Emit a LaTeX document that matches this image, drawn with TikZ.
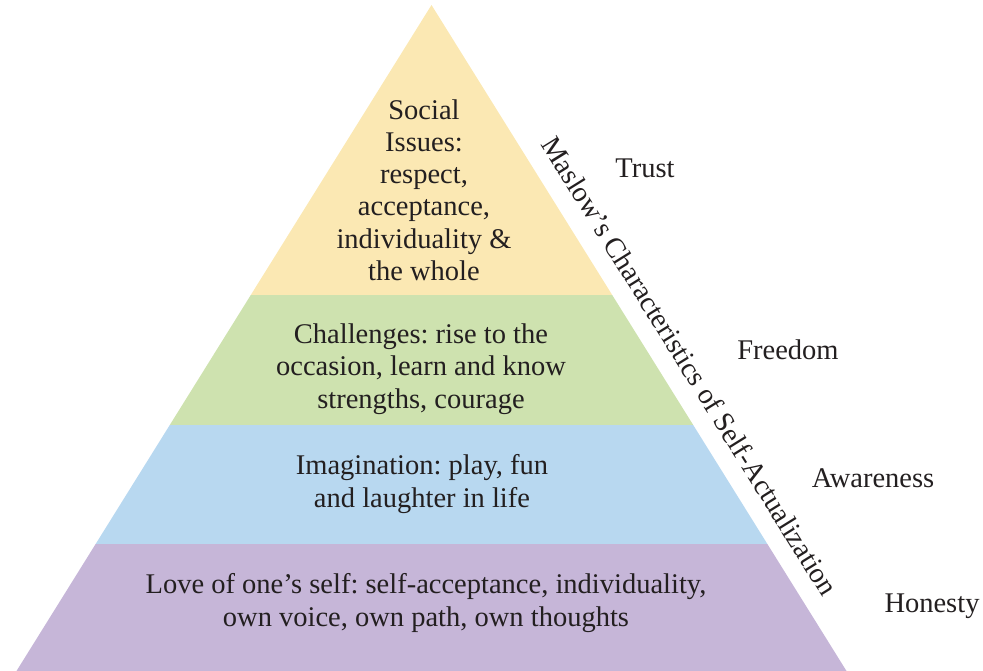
\documentclass[tikz,border=0pt]{standalone}
\usepackage{fontspec}
\setmainfont{Liberation Serif}
\frenchspacing
\definecolor{bandY}{HTML}{FBE8B3}
\definecolor{bandG}{HTML}{CEE2AF}
\definecolor{bandB}{HTML}{B8D8F0}
\definecolor{bandP}{HTML}{C6B6D8}
\definecolor{txt}{HTML}{231F20}
\tikzset{
  lbl/.style={align=center, text=txt, inner sep=0pt, font=\fontsize{28.5}{32.2}\selectfont\frenchspacing},
  side/.style={text=txt, inner sep=0pt, font=\fontsize{28.5}{32}\selectfont\frenchspacing},
}
\begin{document}
\begin{tikzpicture}[x=1pt,y=-1pt]
\useasboundingbox (0,0) rectangle (983,671);
\coordinate (apex) at (431.5,5);
\coordinate (bl) at (16.5,671);
\coordinate (br) at (846.5,671);
\begin{scope}
  \clip (apex) -- (br) -- (bl) -- cycle;
  \fill[bandY] (0,0) rectangle (983,295);
  \fill[bandG] (0,295) rectangle (983,425);
  \fill[bandB] (0,425) rectangle (983,544);
  \fill[bandP] (0,544) rectangle (983,671);
\end{scope}
\node[lbl] (social) at (424,190) {Social\\Issues:\\respect,\\acceptance,\\individuality \&\\the whole};
\node[lbl] (chall) at (421,369) {Challenges: rise to the\\occasion, learn and know\\strengths, courage};
\node[lbl] (imag) at (422,484) {Imagination: play, fun\\and laughter in life};
\node[lbl] (love) at (426,603) {Love of one's self: self-acceptance, individuality,\\own voice, own path, own thoughts};
\node[side, rotate=-58.1] (title) at (690,366) {Maslow's Characteristics of Self-Actualization};
\node[side] (trust) at (645,168) {Trust};
\node[side] (freedom) at (788,350) {Freedom};
\node[side] (aware) at (873,478) {Awareness};
\node[side] (honest) at (932,606) {Honesty};
\end{tikzpicture}
\end{document}
